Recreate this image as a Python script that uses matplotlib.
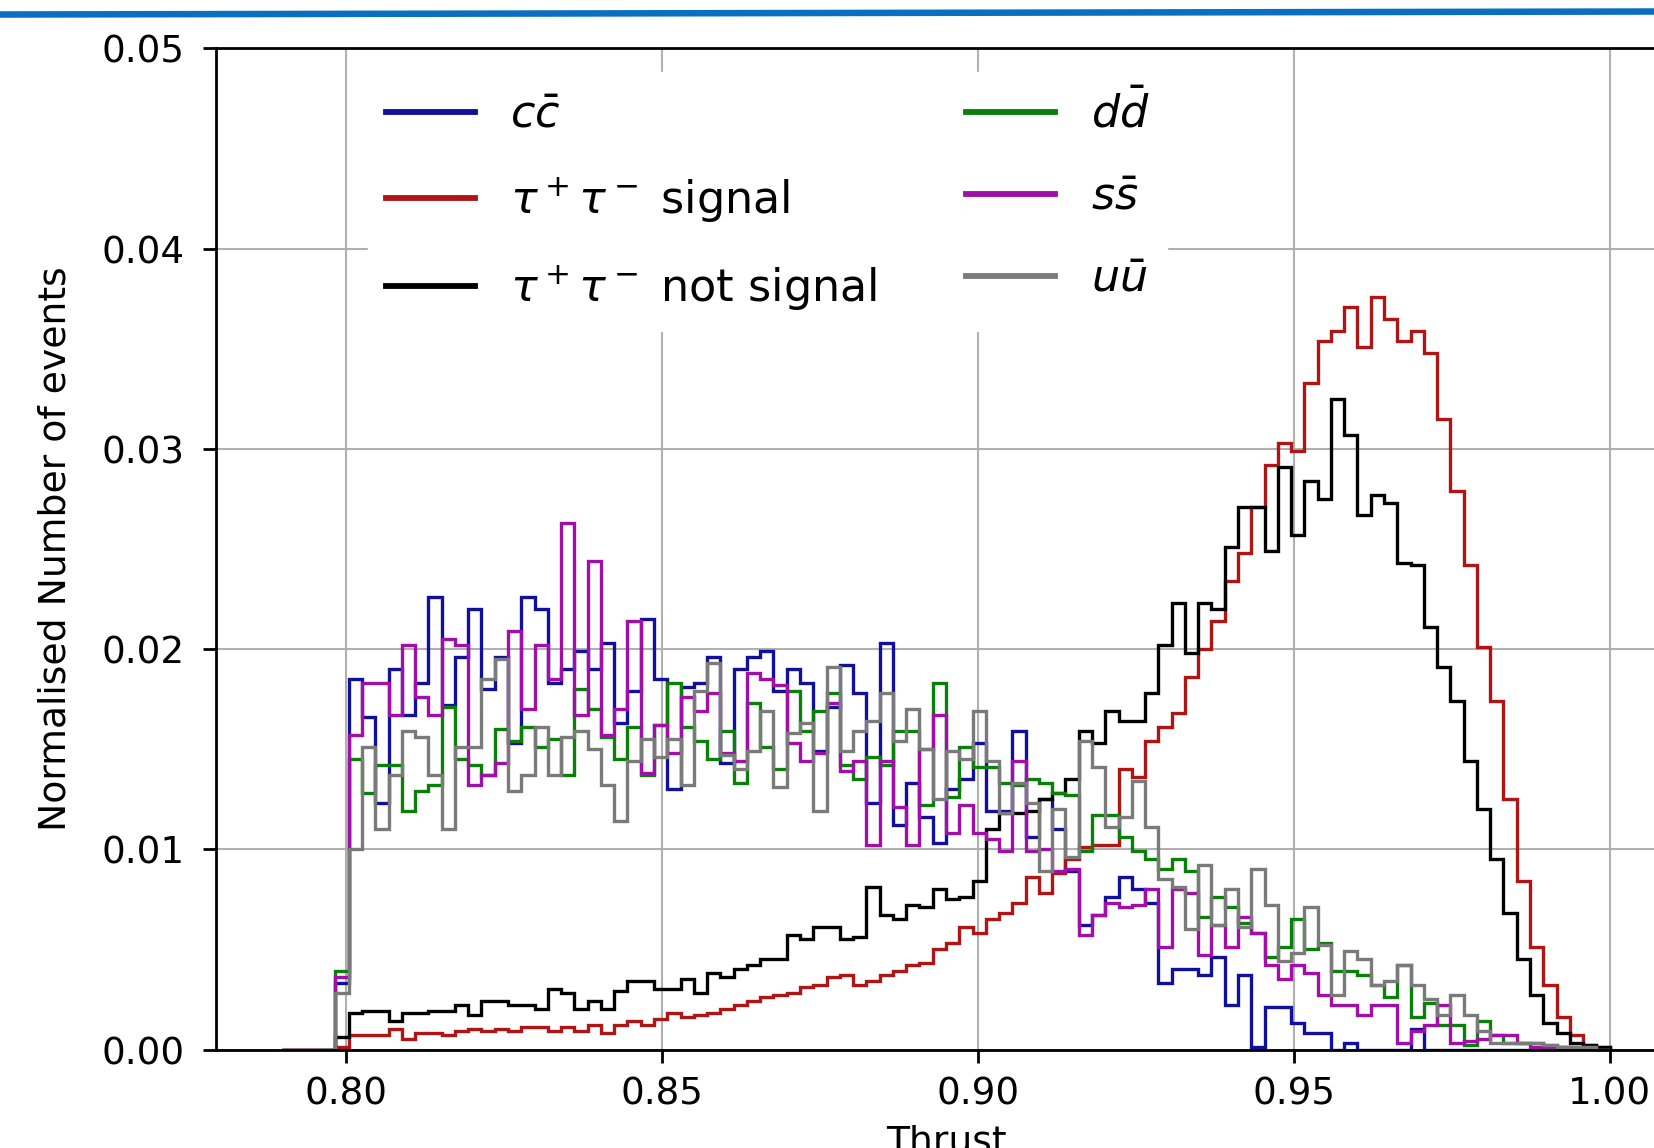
import numpy as np
import matplotlib
matplotlib.use('Agg')
import matplotlib.pyplot as plt
from matplotlib.lines import Line2D

# Thrust histograms, 100 bins from 0.79 to 1.00, normalised per sample
bin_lo, bin_hi, n_bins = 0.79, 1.00, 100

cc = [0, 0, 0, 0, 0.0033, 0.0185, 0.0166, 0.0123, 0.0190, 0.0167,
      0.0183, 0.0226, 0.0172, 0.0196, 0.0220, 0.0180, 0.0196, 0.0153, 0.0226, 0.0220,
      0.0183, 0.0190, 0.0199, 0.0190, 0.0203, 0.0163, 0.0179, 0.0215, 0.0185, 0.0130,
      0.0181, 0.0183, 0.0196, 0.0143, 0.0190, 0.0196, 0.0199, 0.0179, 0.0190, 0.0183,
      0.0149, 0.0171, 0.0192, 0.0178, 0.0123, 0.0203, 0.0112, 0.0133, 0.0116, 0.0103,
      0.0130, 0.0135, 0.0153, 0.0119, 0.0119, 0.0159, 0.0106, 0.0125, 0.0110, 0.0089,
      0.0062, 0.0067, 0.0076, 0.0086, 0.0080, 0.0073, 0.0033, 0.0040, 0.0040, 0.0037,
      0.0046, 0.0022, 0.0037, 0.0001, 0.0021, 0.0021, 0.0013, 0.0008, 0.0008, 0.0,
      0.0003, 0, 0, 0, 0, 0.0010, 0, 0, 0, 0,
      0, 0, 0, 0, 0, 0, 0, 0, 0, 0]

tau_sig = [0, 0, 0, 0, 0.0001, 0.0007, 0.0007, 0.0007, 0.0010, 0.0005,
           0.0008, 0.0008, 0.0007, 0.0009, 0.0010, 0.0009, 0.0010, 0.0009, 0.0011, 0.0011,
           0.0009, 0.0011, 0.0009, 0.0012, 0.0008, 0.0012, 0.0014, 0.0012, 0.0015, 0.0018,
           0.0016, 0.0017, 0.0018, 0.0020, 0.0022, 0.0024, 0.0026, 0.0027, 0.0028, 0.0031,
           0.0032, 0.0036, 0.0037, 0.0032, 0.0034, 0.0037, 0.0039, 0.0042, 0.0043, 0.0050,
           0.0053, 0.0061, 0.0058, 0.0065, 0.0068, 0.0073, 0.0086, 0.0078, 0.0088, 0.0095,
           0.0101, 0.0102, 0.0102, 0.0140, 0.0136, 0.0154, 0.0161, 0.0168, 0.0186, 0.0200,
           0.0214, 0.0234, 0.0248, 0.0271, 0.0292, 0.0303, 0.0299, 0.0333, 0.0354, 0.0359,
           0.0371, 0.0351, 0.0376, 0.0365, 0.0354, 0.0359, 0.0348, 0.0315, 0.0279, 0.0242,
           0.0201, 0.0174, 0.0125, 0.0084, 0.0051, 0.0032, 0.0016, 0.0007, 0.0002, 0.0001]

tau_bkg = [0, 0, 0, 0, 0.0006, 0.0018, 0.0019, 0.0019, 0.0014, 0.0018,
           0.0018, 0.0019, 0.0019, 0.0022, 0.0017, 0.0024, 0.0024, 0.0022, 0.0022, 0.0020,
           0.0030, 0.0028, 0.0020, 0.0024, 0.0020, 0.0029, 0.0034, 0.0034, 0.0030, 0.0030,
           0.0035, 0.0028, 0.0038, 0.0036, 0.0040, 0.0042, 0.0045, 0.0045, 0.0057, 0.0055,
           0.0061, 0.0061, 0.0055, 0.0056, 0.0081, 0.0067, 0.0065, 0.0072, 0.0071, 0.0080,
           0.0075, 0.0076, 0.0084, 0.0110, 0.0118, 0.0118, 0.0119, 0.0125, 0.0128, 0.0135,
           0.0159, 0.0153, 0.0169, 0.0164, 0.0164, 0.0178, 0.0202, 0.0223, 0.0198, 0.0223,
           0.0220, 0.0251, 0.0271, 0.0271, 0.0249, 0.0291, 0.0257, 0.0284, 0.0275, 0.0325,
           0.0307, 0.0267, 0.0277, 0.0273, 0.0243, 0.0242, 0.0211, 0.0191, 0.0174, 0.0144,
           0.0120, 0.0095, 0.0068, 0.0045, 0.0027, 0.0013, 0.0008, 0.0003, 0.0002, 0.0001]

dd = [0, 0, 0, 0, 0.0039, 0.0145, 0.0128, 0.0142, 0.0142, 0.0119,
      0.0129, 0.0132, 0.0171, 0.0145, 0.0142, 0.0137, 0.0160, 0.0154, 0.0161, 0.0151,
      0.0155, 0.0137, 0.0180, 0.0170, 0.0156, 0.0145, 0.0161, 0.0137, 0.0162, 0.0183,
      0.0161, 0.0154, 0.0145, 0.0159, 0.0133, 0.0173, 0.0151, 0.0140, 0.0179, 0.0159,
      0.0169, 0.0178, 0.0142, 0.0135, 0.0146, 0.0142, 0.0159, 0.0159, 0.0122, 0.0183,
      0.0126, 0.0151, 0.0141, 0.0141, 0.0133, 0.0132, 0.0135, 0.0133, 0.0128, 0.0127,
      0.0099, 0.0117, 0.0117, 0.0106, 0.0099, 0.0095, 0.0090, 0.0095, 0.0089, 0.0066,
      0.0076, 0.0071, 0.0063, 0.0058, 0.0046, 0.0051, 0.0065, 0.0050, 0.0053, 0.0039,
      0.0039, 0.0037, 0.0032, 0.0026, 0.0042, 0.0016, 0.0023, 0.0012, 0.0012, 0.0002,
      0.0014, 0.0007, 0.0003, 0.0003, 0.0003, 0.0002, 0.0001, 0.0001, 0.0001, 0]

ss = [0, 0, 0, 0, 0.0036, 0.0157, 0.0183, 0.0183, 0.0167, 0.0202,
      0.0176, 0.0167, 0.0205, 0.0202, 0.0132, 0.0137, 0.0143, 0.0209, 0.0170, 0.0202,
      0.0185, 0.0263, 0.0167, 0.0244, 0.0157, 0.0170, 0.0214, 0.0138, 0.0162, 0.0148,
      0.0176, 0.0169, 0.0178, 0.0148, 0.0144, 0.0188, 0.0185, 0.0182, 0.0153, 0.0144,
      0.0148, 0.0173, 0.0139, 0.0144, 0.0102, 0.0144, 0.0121, 0.0102, 0.0150, 0.0167,
      0.0108, 0.0122, 0.0108, 0.0105, 0.0099, 0.0144, 0.0099, 0.0100, 0.0089, 0.0090,
      0.0057, 0.0067, 0.0073, 0.0071, 0.0072, 0.0080, 0.0051, 0.0080, 0.0078, 0.0047,
      0.0062, 0.0051, 0.0066, 0.0058, 0.0042, 0.0035, 0.0042, 0.0038, 0.0027, 0.0022,
      0.0022, 0.0017, 0.0022, 0.0022, 0.0003, 0.0009, 0.0012, 0.0022, 0.0003, 0.0004,
      0.0005, 0.0007, 0.0007, 0.0003, 0.0001, 0.0001, 0.0001, 0, 0, 0]

uu = [0, 0, 0, 0, 0.0028, 0.0100, 0.0151, 0.0110, 0.0137, 0.0159,
      0.0156, 0.0137, 0.0110, 0.0151, 0.0151, 0.0185, 0.0195, 0.0129, 0.0137, 0.0161,
      0.0137, 0.0156, 0.0159, 0.0150, 0.0132, 0.0114, 0.0144, 0.0155, 0.0146, 0.0155,
      0.0132, 0.0179, 0.0193, 0.0147, 0.0140, 0.0149, 0.0169, 0.0131, 0.0158, 0.0163,
      0.0119, 0.0191, 0.0149, 0.0159, 0.0164, 0.0178, 0.0154, 0.0170, 0.0150, 0.0125,
      0.0149, 0.0145, 0.0169, 0.0144, 0.0118, 0.0133, 0.0123, 0.0089, 0.0120, 0.0096,
      0.0154, 0.0141, 0.0111, 0.0116, 0.0134, 0.0111, 0.0085, 0.0081, 0.0060, 0.0092,
      0.0062, 0.0080, 0.0061, 0.0090, 0.0072, 0.0044, 0.0048, 0.0071, 0.0052, 0.0027,
      0.0049, 0.0045, 0.0032, 0.0034, 0.0042, 0.0032, 0.0025, 0.0017, 0.0027, 0.0017,
      0.0009, 0.0003, 0.0003, 0.0003, 0.0003, 0.0002, 0.0001, 0.0001, 0.0001, 0]

samples = [
    (cc, '#10109c', r'$c\bar{c}$'),
    (tau_sig, '#b01515', r'$\tau^+\tau^-$ signal'),
    (tau_bkg, 'black', r'$\tau^+\tau^-$ not signal'),
    (dd, '#0a7f0a', r'$d\bar{d}$'),
    (ss, '#a010a8', r'$s\bar{s}$'),
    (uu, '#7a7a7a', r'$u\bar{u}$'),
]

edges = np.linspace(bin_lo, bin_hi, n_bins + 1)
centres = 0.5 * (edges[:-1] + edges[1:])

plt.rcParams['font.size'] = 26.3
plt.rcParams['mathtext.fontset'] = 'dejavusans'

fig = plt.figure(figsize=(16.54, 11.48), dpi=100)
ax = fig.add_axes([0.1306, 0.0858, 0.8827, 0.8720])

handles = []
for vals, col, lab in samples:
    ax.hist(centres, bins=edges, weights=vals, histtype='step', color=col, lw=2.4)
    handles.append(Line2D([], [], color=col, lw=4.2, label=lab))

ax.set_xlim(0.7795, 1.0105)
ax.set_ylim(0, 0.05)
ax.set_xticks([0.80, 0.85, 0.90, 0.95, 1.00])
ax.set_yticks([0.00, 0.01, 0.02, 0.03, 0.04, 0.05])
ax.xaxis.set_major_formatter(matplotlib.ticker.FormatStrFormatter('%.2f'))
ax.yaxis.set_major_formatter(matplotlib.ticker.FormatStrFormatter('%.2f'))
ax.tick_params(length=9.5, width=2.0, pad=9.5, labelsize=26.8)
ax.tick_params(axis='y', pad=13)
for s in ax.spines.values():
    s.set_linewidth(2.0)
ax.set_axisbelow(True)
ax.grid(color='#b0b0b0', lw=1.5)

ax.set_xlabel('Thrust', fontsize=27.2, labelpad=8)
ax.set_ylabel('Normalised Number of events', fontsize=27.2, labelpad=20)

leg = ax.legend(handles=handles, ncol=2, loc='upper left', fontsize=32,
                bbox_to_anchor=(368 / 1654, 1 - 72 / 1148), bbox_transform=fig.transFigure,
                frameon=True, fancybox=False, facecolor='white', edgecolor='white',
                framealpha=1, borderaxespad=0, borderpad=0.4, handlelength=2.0,
                handletextpad=0.8, columnspacing=2.0, labelspacing=0.87)

# blue rule from the slide, across the top
fig.add_artist(Line2D([0, 1], [1 - 14.5 / 1148, 1 - 11.5 / 1148], transform=fig.transFigure,
                      color='#0a6fc0', lw=4.7))

plt.savefig('out.png', dpi=100)
